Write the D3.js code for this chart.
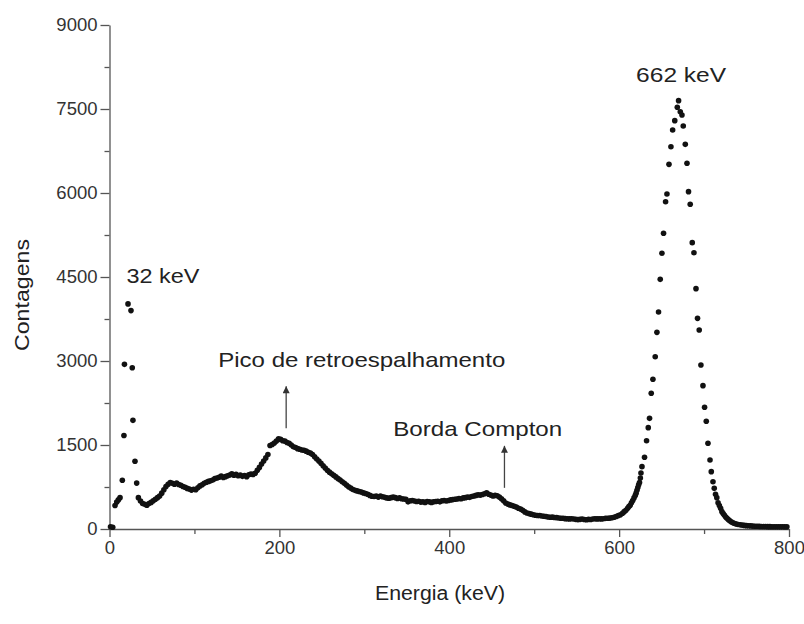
<!DOCTYPE html>
<html>
<head>
<meta charset="utf-8">
<script src="https://cdn.jsdelivr.net/npm/d3@7"></script>
<style>
  body { margin: 0; background: #fff; }
  text { font-family: "Liberation Sans", Arial, sans-serif; fill: #222; }
  .axis path, .axis line { stroke: #555; stroke-width: 1.3px; }
  .axis text { font-size: 18.5px; fill: #333; }
</style>
</head>
<body>
<svg id="spectrum-chart"></svg>
<script>
// spectrum points [energy keV, counts]
const xRayPeak = [
  [1.2, 40], [3.8, 30], [6.5, 420], [8.5, 480], [10.4, 520], [12.4, 560],
  [15.1, 870], [17.0, 1670], [17.6, 2940], [21.8, 4020], [25.3, 3900],
  [26.8, 2880], [27.6, 1940], [30.0, 1210], [32.0, 820]
];

const continuum = [
  [34.0, 560], [36.5, 500], [39.0, 455], [41.5, 440], [44.0, 425], [46.5, 455],
  [49.0, 475], [51.5, 505], [54.0, 530], [56.5, 560], [59.0, 590], [61.5, 640],
  [64.0, 700], [66.5, 760], [69.0, 800], [71.5, 830], [74.0, 815], [76.5, 800],
  [79.0, 820], [81.5, 795], [84.0, 780], [86.5, 760], [89.0, 745], [91.5, 725],
  [94.0, 715], [96.5, 695], [99.0, 710], [101.5, 700], [104.0, 735], [106.5, 770],
  [109.0, 790], [111.5, 815], [114.0, 835], [116.5, 850], [119.0, 860], [121.5, 875],
  [124.0, 900], [126.5, 910], [129.0, 925], [131.5, 945], [134.0, 920], [136.5, 935],
  [139.0, 950], [141.5, 965], [144.0, 985], [146.5, 960], [149.0, 975], [151.5, 950],
  [154.0, 965], [156.5, 940], [159.0, 955], [161.5, 935], [164.0, 970], [166.5, 980],
  [169.0, 975], [171.5, 995], [174.0, 1050], [176.5, 1100], [179.0, 1160], [181.5, 1215],
  [184.0, 1270], [186.5, 1330], [189.0, 1490], [191.5, 1510], [194.0, 1535], [196.5, 1570],
  [199.0, 1610], [201.5, 1600], [204.0, 1575], [206.5, 1570], [209.0, 1545], [211.5, 1530],
  [214.0, 1500], [216.5, 1470], [219.0, 1455], [221.5, 1435], [224.0, 1425], [226.5, 1410],
  [229.0, 1405], [231.5, 1390], [234.0, 1370], [236.5, 1355], [239.0, 1330], [241.5, 1290],
  [244.0, 1250], [246.5, 1215], [249.0, 1175], [251.5, 1130], [254.0, 1090], [256.5, 1050],
  [259.0, 1015], [261.5, 985], [264.0, 960], [266.5, 930], [269.0, 900], [271.5, 875],
  [274.0, 845], [276.5, 815], [279.0, 785], [281.5, 755], [284.0, 730], [286.5, 705],
  [289.0, 690], [291.5, 680], [294.0, 670], [296.5, 660], [299.0, 645], [301.5, 635],
  [304.0, 620], [306.5, 600], [309.0, 585], [311.5, 580], [314.0, 590], [316.5, 570],
  [319.0, 590], [321.5, 575], [324.0, 565], [326.5, 555], [329.0, 550], [331.5, 560],
  [334.0, 570], [336.5, 560], [339.0, 545], [341.5, 555], [344.0, 540], [346.5, 535],
  [349.0, 530], [351.5, 485], [354.0, 505], [356.5, 510], [359.0, 500], [361.5, 490],
  [364.0, 495], [366.5, 480], [369.0, 485], [371.5, 475], [374.0, 490], [376.5, 485],
  [379.0, 475], [381.5, 485], [384.0, 490], [386.5, 495], [389.0, 485], [391.5, 505],
  [394.0, 510], [396.5, 500], [399.0, 510], [401.5, 520], [404.0, 525], [406.5, 530],
  [409.0, 535], [411.5, 545], [414.0, 540], [416.5, 555], [419.0, 560], [421.5, 570],
  [424.0, 565], [426.5, 580], [429.0, 590], [431.5, 600], [434.0, 610], [436.5, 605],
  [439.0, 615], [441.5, 630], [444.0, 645], [446.5, 620], [449.0, 605], [451.5, 590],
  [454.0, 600], [456.5, 595], [459.0, 570], [461.5, 540], [464.0, 505], [466.5, 465],
  [469.0, 445], [471.5, 430], [474.0, 420], [476.5, 405], [479.0, 390], [481.5, 370],
  [484.0, 355], [486.5, 335], [489.0, 305], [491.5, 285], [494.0, 275], [496.5, 265],
  [499.0, 255], [501.5, 245], [504.0, 240], [506.5, 240], [509.0, 232], [511.5, 228],
  [514.0, 222], [516.5, 215], [519.0, 210], [521.5, 212], [524.0, 206], [526.5, 204],
  [529.0, 196], [531.5, 192], [534.0, 192], [536.5, 185], [539.0, 183], [541.5, 180],
  [544.0, 184], [546.5, 178], [549.0, 172], [551.5, 168], [554.0, 172], [556.5, 178],
  [559.0, 170], [561.5, 165], [564.0, 172], [566.5, 170], [569.0, 178], [571.5, 182],
  [574.0, 180], [576.5, 183], [579.0, 180], [581.5, 184], [584.0, 190], [586.5, 192],
  [589.0, 195], [591.5, 200], [594.0, 210], [596.5, 222], [599.0, 238], [601.5, 255]
];

const photoPeak = [
  [604.0, 280], [606.0, 310], [608.0, 335], [610.0, 370], [611.5, 400], [613.0, 425],
  [614.5, 470], [616.0, 510], [617.5, 555], [619.0, 600], [620.0, 640], [621.0, 690],
  [622.0, 740], [623.0, 790], [624.0, 830], [625.0, 910], [625.7, 1000], [626.9, 1113],
  [629.9, 1280], [632.3, 1577], [634.3, 1810], [635.8, 1976], [637.8, 2423], [639.8, 2673],
  [642.5, 3077], [644.5, 3512], [646.4, 3875], [648.4, 4458], [650.4, 4923], [652.3, 5280],
  [654.7, 5845], [656.3, 5982], [658.7, 6512], [661.0, 6827], [663.0, 7125], [665.5, 7292],
  [668.5, 7530], [670.0, 7649], [672.0, 7452], [674.0, 7393], [675.5, 7196], [677.9, 6869],
  [679.9, 6530], [681.7, 6024], [683.7, 5798], [686.1, 5113], [688.1, 4934], [690.5, 4292],
  [692.3, 3762], [694.3, 3554], [696.3, 2929], [698.7, 2560], [700.6, 2173], [702.6, 1923],
  [704.6, 1530], [707.0, 1232], [708.5, 1024], [710.5, 845], [712.0, 726], [713.5, 620],
  [715.0, 560], [716.5, 470], [718.0, 420], [719.5, 370], [721.0, 310], [722.5, 275],
  [724.0, 245], [725.5, 215], [727.0, 190], [728.5, 170], [730.0, 150], [732.0, 128],
  [734.0, 110], [736.0, 98], [738.0, 88], [740.0, 80], [742.5, 74], [745.0, 70],
  [747.5, 64], [750.0, 60], [752.5, 57], [755.0, 55], [757.5, 52], [760.0, 50],
  [762.5, 48], [765.0, 47], [767.5, 45], [770.0, 44], [772.5, 44], [775.0, 42],
  [777.5, 42], [780.0, 41], [782.5, 40], [785.0, 40], [787.5, 40], [790.0, 39],
  [792.5, 40], [795.0, 38], [797.5, 38]
];

const xTicks = [0, 200, 400, 600, 800];
const xMinorTicks = [100, 300, 500, 700];
const yTicks = [0, 1500, 3000, 4500, 6000, 7500, 9000];
const yMinorTicks = [750, 2250, 3750, 5250, 6750, 8250];

// peak labels sit above the data (text centre in data units)
const peakLabels = [
  { text: "32 keV", keV: 63, counts: 4390, width: 73 },
  { text: "662 keV", keV: 673, counts: 7980, width: 90 }
];
// arrows point up from the feature, text sits above them
const arrowNotes = [
  { text: "Pico de retroespalhamento", keV: 208, counts: 1800, width: 287, textKeV: 297, textCounts: 2900 },
  { text: "Borda Compton", keV: 465, counts: 735, width: 169, textKeV: 433.5, textCounts: 1660 }
];

// Graph Dimensions
const totalWidth = 804;
const totalHeight = 624;

const svg = d3.select("#spectrum-chart")
  .attr("width", totalWidth)
  .attr("height", totalHeight);

const xScale = d3.scaleLinear().domain([0, 800]).range([109.5, 789]);
const yScale = d3.scaleLinear().domain([0, 9000]).range([529, 25]);

///////////////////////////////////////////////////
//////////////////// Axes /////////////////////////
///////////////////////////////////////////////////

svg.append("g")
  .attr("class", "axis")
  .attr("transform", "translate(" + xScale(0) + ",0)")
  .call(d3.axisLeft(yScale).tickValues(yTicks).tickFormat(d3.format("d"))
    .tickSize(9).tickSizeOuter(0).tickPadding(3));
svg.append("g")
  .attr("class", "axis")
  .attr("transform", "translate(" + xScale(0) + ",0)")
  .call(d3.axisLeft(yScale).tickValues(yMinorTicks).tickSize(5).tickFormat("").tickSizeOuter(0))
  .select(".domain").remove();

svg.append("g")
  .attr("class", "axis")
  .attr("transform", "translate(0," + yScale(0) + ")")
  .call(d3.axisBottom(xScale).tickValues(xTicks).tickFormat(d3.format("d"))
    .tickSize(8).tickSizeOuter(0).tickPadding(4));
svg.append("g")
  .attr("class", "axis")
  .attr("transform", "translate(0," + yScale(0) + ")")
  .call(d3.axisBottom(xScale).tickValues(xMinorTicks).tickSize(5).tickFormat("").tickSizeOuter(0))
  .select(".domain").remove();

// axis titles
svg.append("text")
  .attr("x", 440)
  .attr("y", 600)
  .attr("text-anchor", "middle")
  .attr("textLength", 130)
  .attr("lengthAdjust", "spacingAndGlyphs")
  .style("font-size", "20px")
  .text("Energia (keV)");

svg.append("text")
  .attr("transform", "translate(29,295) rotate(-90)")
  .attr("text-anchor", "middle")
  .attr("textLength", 112)
  .attr("lengthAdjust", "spacingAndGlyphs")
  .style("font-size", "20px")
  .text("Contagens");

///////////////////////////////////////////////////
//////////////////// Points ///////////////////////
///////////////////////////////////////////////////

const allPoints = xRayPeak.concat(continuum, photoPeak);
svg.append("g")
  .attr("class", "points")
  .selectAll("circle")
  .data(allPoints)
  .enter()
  .append("circle")
  .attr("cx", (d) => xScale(d[0]))
  .attr("cy", (d) => yScale(d[1]))
  .attr("r", 2.8)
  .attr("fill", "#111");

///////////////////////////////////////////////////
///////////////// Annotations /////////////////////
///////////////////////////////////////////////////

svg.selectAll(".peak-label")
  .data(peakLabels)
  .enter()
  .append("text")
  .attr("class", "peak-label")
  .attr("x", (d) => xScale(d.keV))
  .attr("y", (d) => yScale(d.counts))
  .attr("text-anchor", "middle")
  .attr("textLength", (d) => d.width)
  .attr("lengthAdjust", "spacingAndGlyphs")
  .style("font-size", "21px")
  .text((d) => d.text);

svg.append("defs")
  .append("marker")
  .attr("id", "arrowHead")
  .attr("viewBox", "0 0 10 10")
  .attr("refX", 10)
  .attr("refY", 5)
  .attr("markerWidth", 12)
  .attr("markerHeight", 7)
  .attr("markerUnits", "userSpaceOnUse")
  .attr("orient", "auto")
  .append("path")
  .attr("d", "M0,0 L10,5 L0,10 Z")
  .attr("fill", "#333");

const notes = svg.selectAll(".arrow-note")
  .data(arrowNotes)
  .enter()
  .append("g")
  .attr("class", "arrow-note");

notes.append("line")
  .attr("x1", (d) => xScale(d.keV))
  .attr("x2", (d) => xScale(d.keV))
  .attr("y1", (d) => yScale(d.counts))
  .attr("y2", (d) => yScale(d.counts) - 42)
  .attr("stroke", "#444")
  .attr("stroke-width", 1.3)
  .attr("marker-end", "url(#arrowHead)");

notes.append("text")
  .attr("x", (d) => xScale(d.textKeV))
  .attr("y", (d) => yScale(d.textCounts))
  .attr("text-anchor", "middle")
  .attr("textLength", (d) => d.width)
  .attr("lengthAdjust", "spacingAndGlyphs")
  .style("font-size", "21px")
  .text((d) => d.text);
</script>
</body>
</html>
